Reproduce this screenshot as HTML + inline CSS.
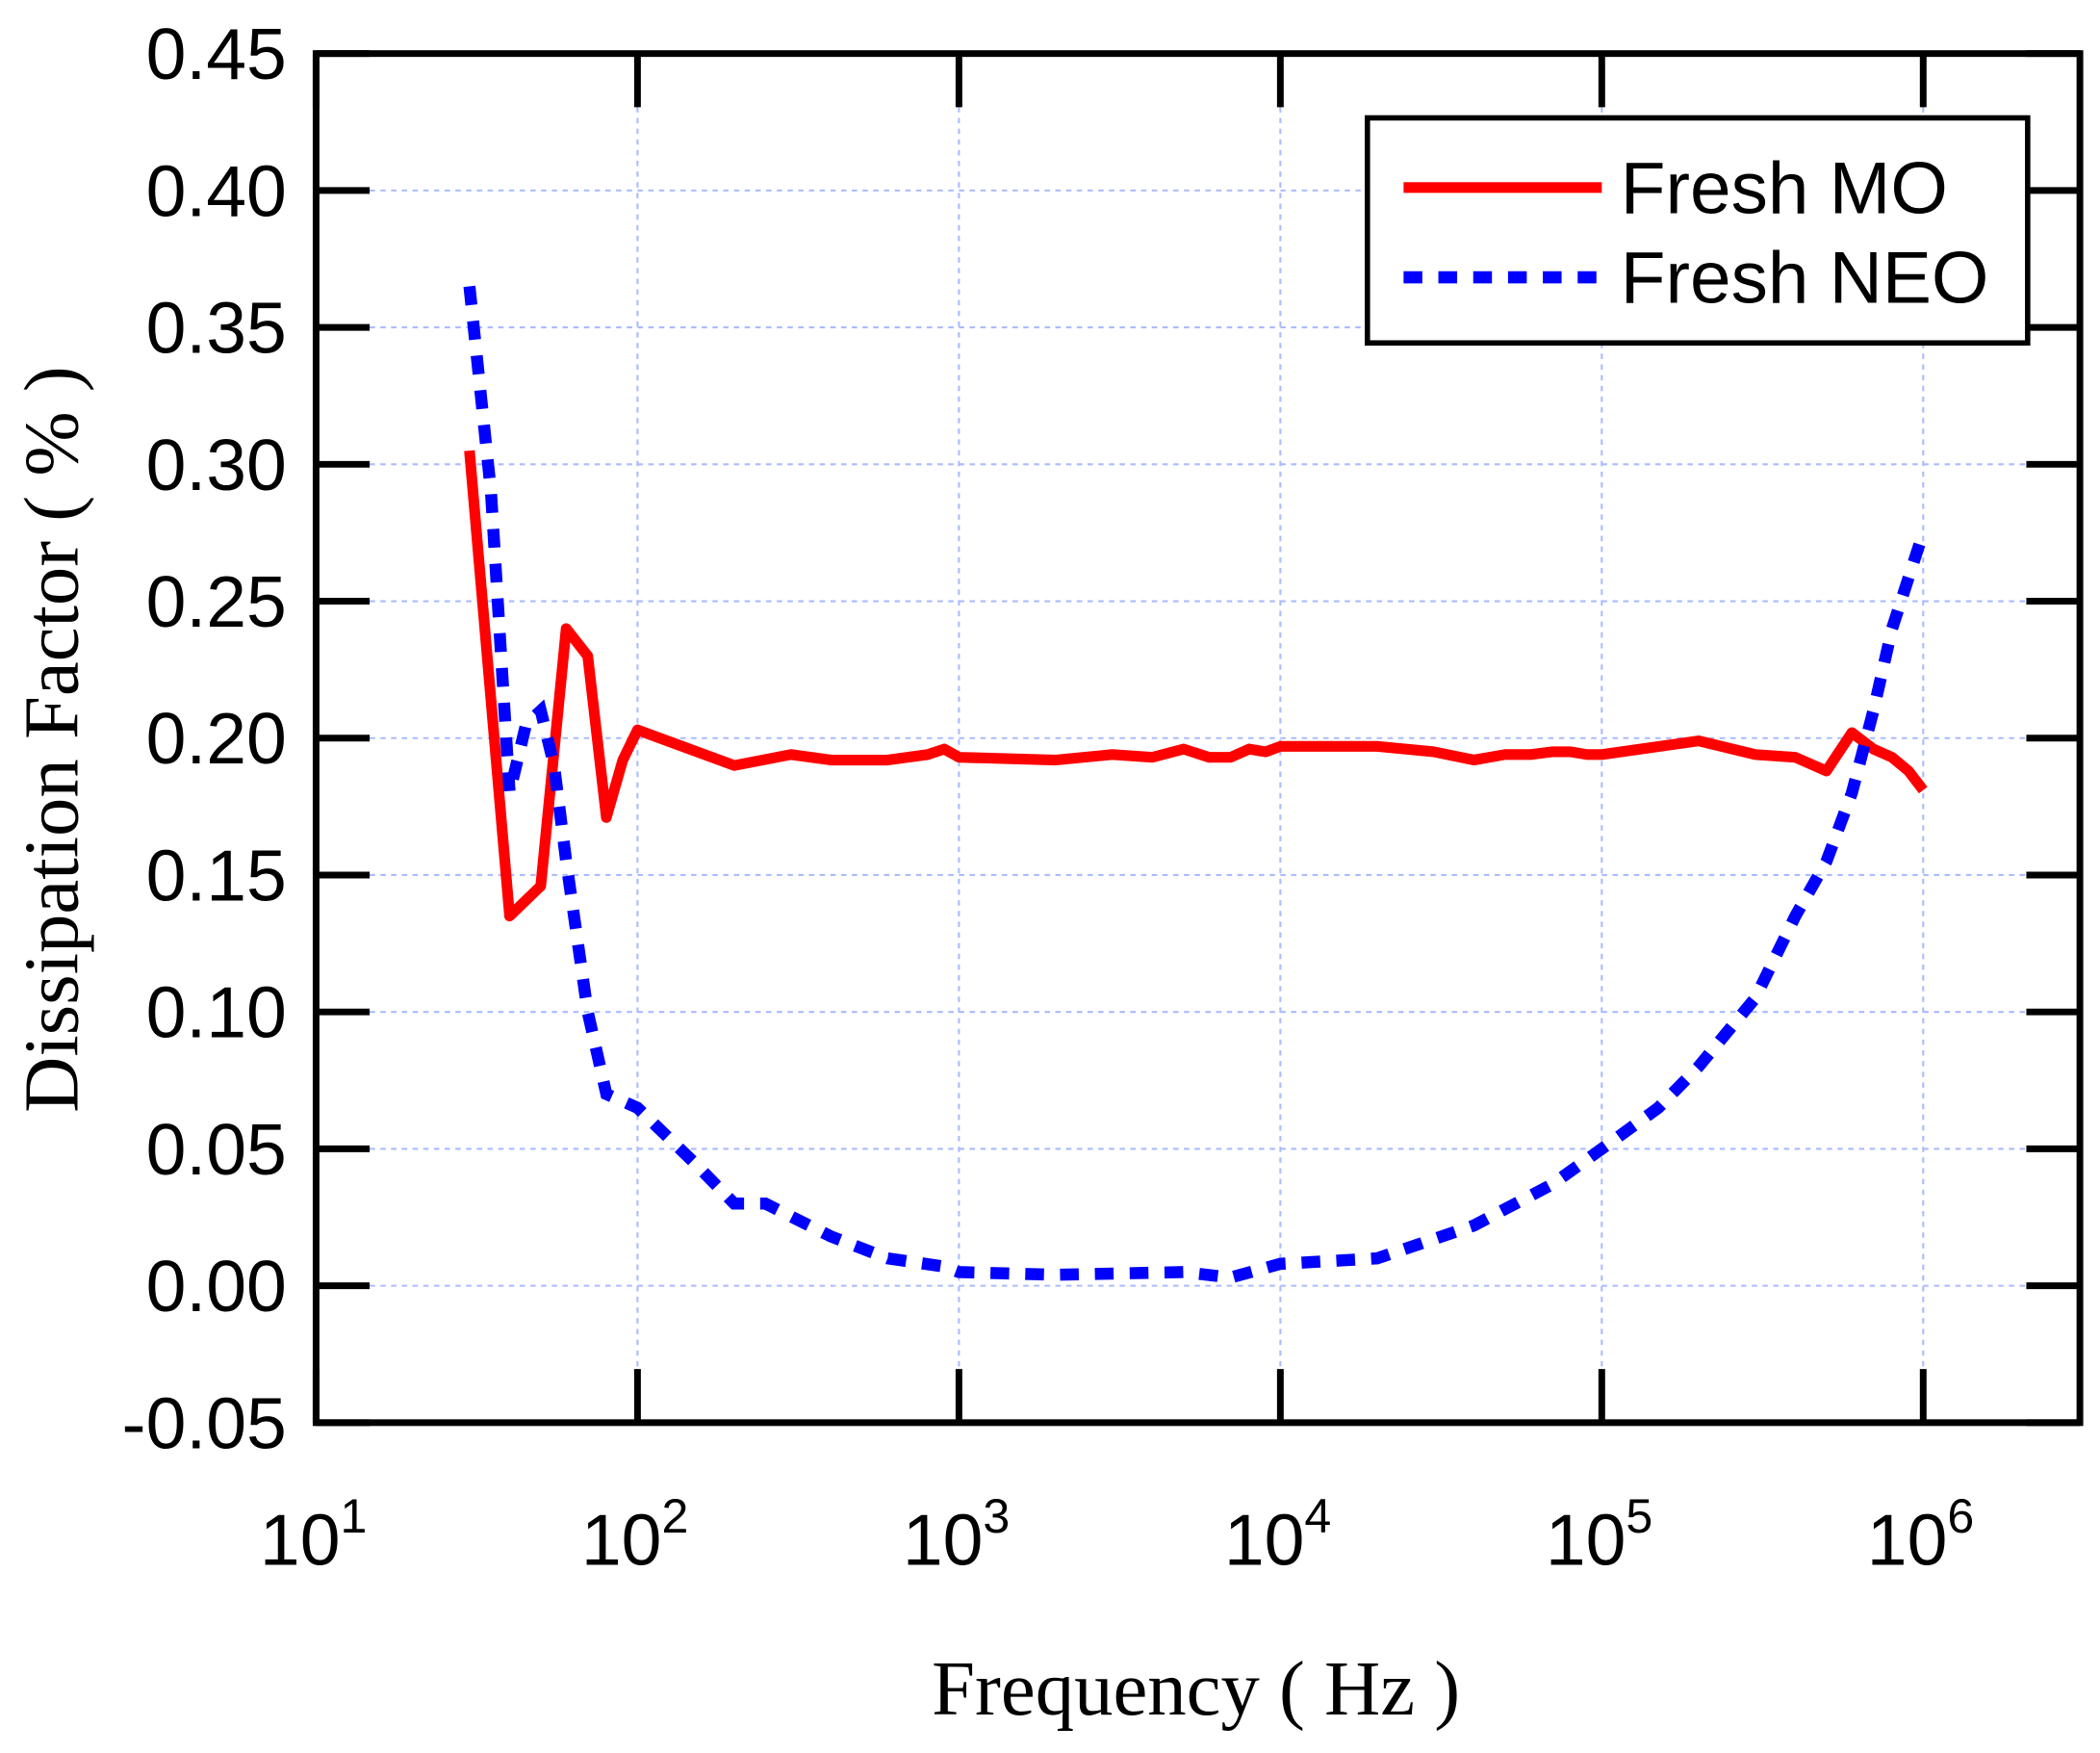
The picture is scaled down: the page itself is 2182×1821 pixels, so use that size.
<!DOCTYPE html>
<html><head><meta charset="utf-8"><style>
html,body{margin:0;padding:0;background:#fff;}
svg{display:block;}
text{font-family:"Liberation Sans",sans-serif;}
.serif{font-family:"Liberation Serif",serif;}
</style></head><body>
<svg id="chart" width="2182" height="1821" viewBox="0 0 1568 1308.6" xmlns="http://www.w3.org/2000/svg">
<g id="grid"></g>
<g id="series"></g>
<rect x="236" y="40" width="1317" height="1022" fill="none" stroke="#000" stroke-width="5"/>
<g id="ticks"></g>
<text class="serif" x="893" y="1280" font-size="58" text-anchor="middle">Frequency ( Hz )</text>
<text class="serif" transform="translate(58,552) rotate(-90)" font-size="58" text-anchor="middle">Dissipation Factor ( % )</text>
<g>
<rect x="1021" y="88" width="493" height="168" fill="#fff" stroke="#000" stroke-width="4"/>
<line x1="1048" y1="140" x2="1196" y2="140" stroke="#f00" stroke-width="8"/>
<text x="1210" y="159" font-size="55">Fresh MO</text>
<line x1="1048" y1="207" x2="1196" y2="207" stroke="#00f" stroke-width="9" stroke-dasharray="14,12"/>
<text x="1210" y="226" font-size="55">Fresh NEO</text>
</g>
</svg>
<script>
const yTicks=[-0.05,0,0.05,0.10,0.15,0.20,0.25,0.30,0.35,0.40,0.45];
const yTickLabels=["-0.05","0.00","0.05","0.10","0.15","0.20","0.25","0.30","0.35","0.40","0.45"];
const xDecades=[1,2,3,4,5,6];
const moFreq=[30,40,50,60,70,80,90,100,200,300,400,600,800,900,1000,2000,3000,4000,5000,6000,7000,8000,9000,1e4,2e4,3e4,4e4,5e4,6e4,7e4,8e4,9e4,1e5,2e5,3e5,4e5,5e5,6e5,7e5,8e5,9e5,1e6];
const moValues=[0.305,0.135,0.146,0.24,0.23,0.171,0.192,0.203,0.19,0.194,0.192,0.192,0.194,0.196,0.193,0.192,0.194,0.193,0.196,0.193,0.193,0.196,0.195,0.197,0.197,0.195,0.192,0.194,0.194,0.195,0.195,0.194,0.194,0.199,0.194,0.193,0.188,0.202,0.196,0.193,0.188,0.181];
const neoFreq=[30,35,40,45,50,55,60,70,80,100,150,200,250,400,600,900,1000,2000,5000,7000,1e4,2e4,4e4,7e4,1e5,1.5e5,2e5,3e5,4e5,5e5,6e5,7e5,8e5,1e6];
const neoValues=[0.365,0.29,0.18,0.205,0.21,0.19,0.155,0.1,0.07,0.065,0.045,0.03,0.03,0.018,0.01,0.007,0.005,0.004,0.005,0.003,0.008,0.01,0.022,0.037,0.05,0.065,0.08,0.105,0.135,0.155,0.18,0.21,0.24,0.275];
const NS="http://www.w3.org/2000/svg";
const X0=236,X1=1553,Y0=40,Y1=1062;
const xs=f=>X0+(Math.log10(f)-1)*240;
const ys=v=>Y0+(0.45-v)/0.5*(Y1-Y0);
function mk(t,a,p){const e=document.createElementNS(NS,t);for(const k in a)e.setAttribute(k,a[k]);p.appendChild(e);return e;}
const grid=document.getElementById('grid'),ticks=document.getElementById('ticks'),ser=document.getElementById('series');
yTicks.forEach((v,i)=>{const y=ys(v);
 if(i>0&&i<yTicks.length-1){const g=mk('line',{x1:X0,x2:X1,y1:y,y2:y,stroke:'#aabbff','stroke-width':1.5,'stroke-dasharray':'4,4'},grid);
 
 }
 const t1=mk('line',{x1:X0,x2:X0+40,y1:y,y2:y,stroke:'#000','stroke-width':5},ticks);
 
 
 const t2=mk('line',{x1:X1-40,x2:X1,y1:y,y2:y,stroke:'#000','stroke-width':5},ticks);
 
 
 const tx=mk('text',{x:214,y:y+19,'font-size':54,'text-anchor':'end'},ticks);tx.textContent=yTickLabels[i];
 
 
});
xDecades.forEach(d=>{const x=xs(Math.pow(10,d));
 const g=mk('line',{x1:x,x2:x,y1:Y0,y2:Y1,stroke:'#aabbff','stroke-width':1.5,'stroke-dasharray':'4,4'},grid);
 
 
 const t1=mk('line',{x1:x,x2:x,y1:Y1-40,y2:Y1,stroke:'#000','stroke-width':5},ticks);
 
 
 const t2=mk('line',{x1:x,x2:x,y1:Y0,y2:Y0+40,stroke:'#000','stroke-width':5},ticks);
 
 
 const tx=mk('text',{x:x-2,y:1168,'font-size':54,'text-anchor':'middle'},ticks);
 
 
 tx.appendChild(document.createTextNode('10'));
 const sp=mk('tspan',{dy:-24,'font-size':36},tx);sp.textContent=String(d);
});
const mo=mk('polyline',{points:moFreq.map((f,i)=>xs(f)+','+ys(moValues[i])).join(' '),fill:'none',stroke:'#f00','stroke-width':8,'stroke-linejoin':'round'},ser);


const neo=mk('polyline',{points:neoFreq.map((f,i)=>xs(f)+','+ys(neoValues[i])).join(' '),fill:'none',stroke:'#00f','stroke-width':9,'stroke-dasharray':'14,12'},ser);


</script>
</body></html>
